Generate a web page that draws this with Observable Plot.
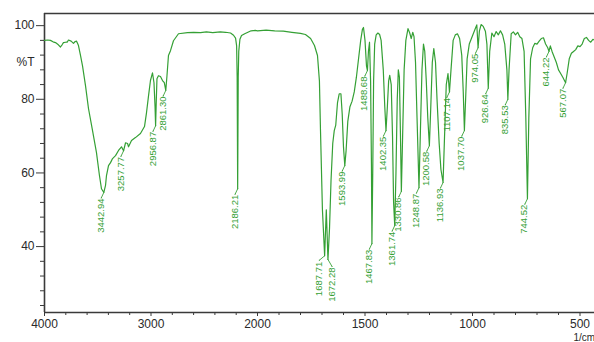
<!DOCTYPE html>
<html>
<head>
<meta charset="utf-8">
<script src="https://cdn.jsdelivr.net/npm/d3@7"></script>
<script src="https://cdn.jsdelivr.net/npm/@observablehq/plot@0.6"></script>
<style>
  html, body { margin: 0; padding: 0; background: #fff; }
  #chart { width: 594px; height: 342px; overflow: hidden; }
</style>
</head>
<body>
<div id="chart"></div>
<script>
// Wavenumber (1/cm) and transmittance (%T)
const wavenumbers = [
  4000, 3970, 3944, 3920, 3897, 3870, 3850, 3835, 3822, 3800, 3787, 3775, 3750, 3728, 3712, 3700, 3690, 3681,
  3662, 3643, 3615, 3587, 3549, 3512, 3484, 3465, 3442.94, 3427, 3418, 3399, 3380, 3361, 3333, 3305, 3277,
  3257.77, 3239, 3220, 3211, 3183, 3146, 3099, 3061, 3042, 3023, 3005, 2986, 2972, 2962, 2956.87, 2950, 2944,
  2930, 2911, 2892, 2875, 2861.30, 2850, 2836, 2817, 2789, 2742, 2657, 2600, 2535, 2480, 2420, 2350, 2300,
  2253, 2225, 2206, 2196, 2191, 2186.21, 2181, 2176, 2165, 2150, 2120, 2090, 2060, 2020, 2000, 1960, 1920,
  1880, 1840, 1800, 1777, 1753, 1735, 1721, 1712, 1707, 1698, 1687.71, 1680, 1672.28, 1665, 1658, 1650, 1643,
  1636, 1628, 1620, 1612, 1606, 1600, 1593.99, 1588, 1580, 1570, 1560, 1550, 1540, 1530, 1520, 1512, 1507,
  1500, 1493, 1488.68, 1484, 1479, 1474, 1470, 1467.83, 1464, 1460, 1455, 1448, 1440, 1432, 1425, 1415, 1408,
  1402.35, 1396, 1390, 1385, 1378, 1372, 1367, 1361.74, 1356, 1350, 1345, 1340, 1335, 1330.86, 1325, 1318,
  1310, 1300, 1292, 1285, 1278, 1272, 1265, 1258, 1248.87, 1242, 1235, 1228, 1222, 1215, 1208, 1200.58, 1194,
  1187, 1180, 1172, 1165, 1155, 1147, 1136.93, 1130, 1122, 1114, 1107.14, 1100, 1090, 1080, 1070, 1060, 1050,
  1043, 1037.70, 1032, 1025, 1015, 1005, 995, 985, 980, 974.05, 968, 960, 950, 940, 933, 926.64, 920, 910, 900,
  890, 880, 870, 860, 850, 840, 835.53, 830, 820, 810, 800, 790, 780, 770, 760, 752, 744.52, 738, 730, 720,
  710, 700, 690, 680, 670, 660, 650, 644.22, 638, 630, 620, 610, 600, 590, 580, 567.07, 560, 550, 540, 530,
  520, 510, 500, 490, 480, 470, 460, 450, 440, 430, 420, 400
];
const transmittance = [
  96.0, 96.1, 96.0, 95.6, 95.4, 94.8, 94.2, 94.8, 95.4, 95.5, 95.5, 96.1, 95.8, 95.2, 95.7, 95.8, 95.2, 94.6,
  91.9, 89.1, 83.7, 77.5, 71.5, 65.5, 59.3, 55.7, 54.7, 56.6, 59.3, 62.0, 62.8, 63.9, 64.7, 66.1, 67.1,
  66.0, 68.2, 68.0, 67.1, 68.8, 69.6, 70.7, 72.6, 76.4, 81.0, 85.1, 87.2, 84.5, 78.0, 72.8, 80.0, 85.6,
  86.4, 86.2, 85.1, 84.5, 82.4, 86.4, 91.9, 93.2, 95.9, 97.8, 98.1, 98.2, 98.1, 98.3, 98.1, 98.3, 98.2,
  98.0, 97.4, 96.6, 94.5, 86.0, 55.7, 86.0, 93.0, 96.3, 97.3, 97.8, 98.2, 98.6, 98.7, 98.6, 98.8, 98.6,
  98.5, 98.2, 97.9, 97.6, 96.5, 94.6, 91.9, 85.0, 71.5, 50.0, 37.5, 50.0, 36.5, 45.0, 58.0, 68.0, 71.5,
  73.0, 79.0, 81.5, 81.5, 76.0, 67.0, 62.0, 66.0, 74.0, 78.0, 79.5, 82.0, 86.0, 91.0, 96.0, 99.0, 99.5,
  96.0, 89.0, 87.8, 93.0, 95.5, 85.0, 62.0, 40.8, 60.0, 85.0, 95.0, 97.5, 98.0, 97.6, 96.0, 88.0, 78.0,
  71.5, 78.0, 85.0, 86.5, 84.0, 70.0, 52.0, 45.7, 60.0, 80.0, 88.0, 86.0, 70.0, 55.0, 70.0, 88.0,
  96.0, 99.2, 98.0, 96.5, 98.2, 97.0, 90.0, 75.0, 56.0, 72.0, 88.0, 95.0, 93.0, 85.0, 75.0, 67.4, 78.0,
  90.0, 93.8, 90.0, 80.0, 68.0, 61.0, 57.4, 70.0, 84.0, 87.0, 82.0, 88.0, 96.0, 97.5, 97.8, 96.5, 92.0,
  82.0, 71.5, 80.0, 91.0, 95.0, 96.5, 98.0, 99.5, 100.2, 94.0, 98.5, 100.3, 99.8, 98.5, 95.0, 83.0, 93.0, 98.0, 97.0,
  98.4, 97.5, 98.6, 97.5, 95.0, 88.0, 80.0, 88.0, 97.8, 98.3, 97.5, 98.2, 97.0, 96.5, 93.0, 75.0, 53.0, 75.0, 91.0, 94.0,
  95.2, 95.0, 95.8, 96.5, 96.7, 95.0, 94.0, 93.0, 94.5, 93.0, 91.5, 90.0, 88.0, 87.0, 86.0, 84.5, 87.0, 91.0, 92.5, 93.0,
  93.5, 94.5, 94.3, 95.0, 96.5, 96.8, 96.0, 95.5, 96.3, 96.0, 96.2, 96.0
];

// Peak labels printed on the spectrum
const peakLabels = [
  "3442.94", "3257.77", "2956.87", "2861.30", "2186.21", "1687.71", "1672.28", "1593.99",
  "1488.68", "1467.83", "1402.35", "1361.74", "1330.86", "1248.87", "1200.58", "1136.93",
  "1107.14", "1037.70", "974.05", "926.64", "835.53", "744.52", "644.22", "567.07"
];

// Axis ticks
const xMajorTicks = [4000, 3000, 2000, 1500, 1000, 500];
const xMinorTicks = [3800, 3600, 3400, 3200, 2800, 2600, 2400, 2200, 1900, 1800, 1700, 1600,
  1400, 1300, 1200, 1100, 900, 800, 700, 600, 400];
const yMajorTicks = [100, 80, 60, 40];
const yMinorTicks = [96, 92, 88, 84, 76, 72, 68, 64, 56, 52, 48, 44, 36, 32, 28, 24];
const yUnitLabel = ["%T"];
const yUnitAt = 90;
const xUnitLabel = ["1/cm"];

const xDomain = [4000, 2000, 400];
const yDomain = [22.1, 103.3];

const spectrum = wavenumbers.map((w, i) => ({wn: w, T: transmittance[i]}));
const peaks = peakLabels.map(l => {
  const w = +l;
  const p = spectrum.find(d => Math.abs(d.wn - w) < 1e-6);
  return {wn: w, T: p ? p.T : null, label: l};
});
// the close doublet near 1680 has its labels spread apart, as in the reference
const doubletLeft = ["1687.71"];
const doubletRight = ["1672.28"];
const peaksMain = peaks.filter(p => !doubletLeft.includes(p.label) && !doubletRight.includes(p.label));
const peaksLeft = peaks.filter(p => doubletLeft.includes(p.label));
const peaksRight = peaks.filter(p => doubletRight.includes(p.label));

const green = "#35a035";
const axisColor = "#3a3a3a";
const labelFont = 9.5;

const chart = Plot.plot({
  width: 594,
  height: 342,
  marginLeft: 44,
  marginTop: 13,
  marginBottom: 30,
  marginRight: 0,
  style: {fontFamily: "'Liberation Sans', Arial, sans-serif", background: "#fff", overflow: "hidden"},
  x: {type: "linear", domain: xDomain, range: [44, 257, 601], label: null},
  y: {domain: yDomain, label: null},
  marks: [
    Plot.ruleY([yDomain[1]], {stroke: axisColor, strokeWidth: 1.6}),
    Plot.ruleY([yDomain[0]], {stroke: axisColor, strokeWidth: 1.4}),
    Plot.ruleX([xDomain[0]], {stroke: axisColor, strokeWidth: 1.6}),
    Plot.axisX({ticks: xMinorTicks, tickSize: 3, tickFormat: () => "", stroke: axisColor, label: null}),
    Plot.axisX({ticks: xMajorTicks, tickSize: 4, tickPadding: 3, tickFormat: d => String(d),
      fontSize: 12, fill: "#2a2a2a", stroke: axisColor, label: null}),
    Plot.axisY({ticks: yMinorTicks, tickSize: 4, tickFormat: () => "", stroke: axisColor, label: null}),
    Plot.axisY({ticks: yMajorTicks, tickSize: 8, tickPadding: 2, tickFormat: d => String(d),
      fontSize: 12, fill: "#2a2a2a", stroke: axisColor, label: null}),
    Plot.text(yUnitLabel, {x: xDomain[0], y: yUnitAt, text: d => d, textAnchor: "end", dx: -10,
      fontSize: 12, fill: "#2a2a2a"}),
    Plot.text(xUnitLabel, {frameAnchor: "bottom-right", text: d => d, textAnchor: "start",
      lineAnchor: "middle", dx: -21, dy: 25, fontSize: 10, fill: "#2a2a2a"}),
    Plot.line(spectrum, {x: "wn", y: "T", stroke: green, strokeWidth: 1.2, curve: "linear"}),
    Plot.vector(peaksMain, {x: "wn", y: "T", length: 6, rotate: 205, anchor: "start", r: 0,
      stroke: green, strokeWidth: 0.8}),
    Plot.vector(peaksLeft, {x: "wn", y: "T", length: 7, rotate: 230, anchor: "start", r: 0,
      stroke: green, strokeWidth: 0.8}),
    Plot.vector(peaksRight, {x: "wn", y: "T", length: 8, rotate: 150, anchor: "start", r: 0,
      stroke: green, strokeWidth: 0.8}),
    Plot.text(peaksMain, {x: "wn", y: "T", text: "label", rotate: -90, textAnchor: "end",
      dx: -3, dy: 6, fontSize: labelFont, fill: green}),
    Plot.text(peaksLeft, {x: "wn", y: "T", text: "label", rotate: -90, textAnchor: "end",
      dx: -6, dy: 6, fontSize: labelFont, fill: green}),
    Plot.text(peaksRight, {x: "wn", y: "T", text: "label", rotate: -90, textAnchor: "end",
      dx: 4, dy: 8, fontSize: labelFont, fill: green})
  ]
});
document.getElementById("chart").append(chart);
</script>
</body>
</html>
